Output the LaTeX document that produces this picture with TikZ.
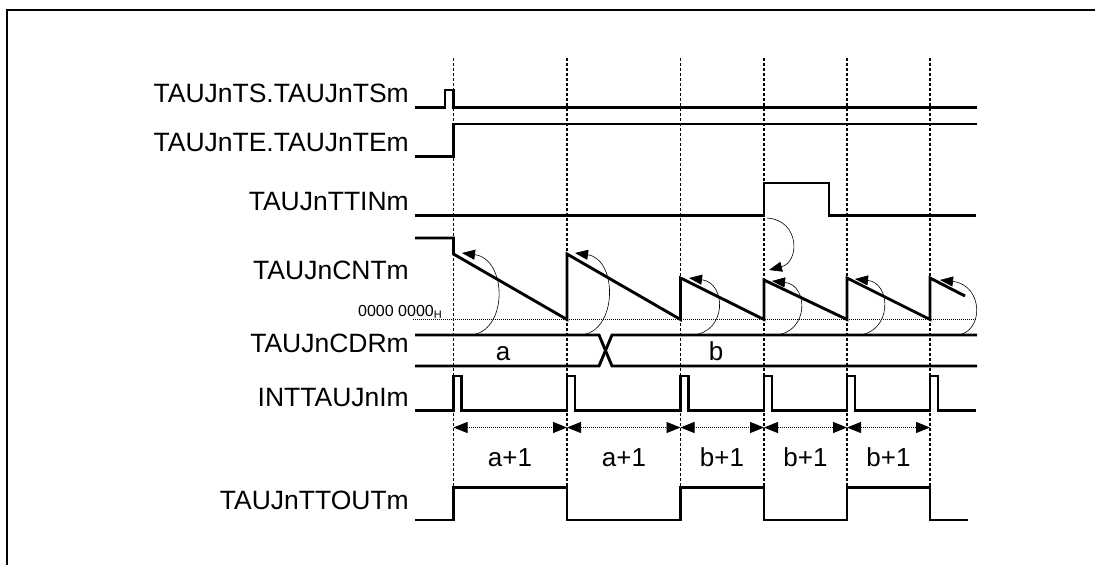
\documentclass[tikz,border=0pt]{standalone}
\usepackage{fontspec}
\setmainfont{Liberation Sans}
\usetikzlibrary{arrows.meta}
\begin{document}
\begin{tikzpicture}[x=1pt,y=-1pt,
  sig/.style={line width=2.9pt, line join=miter},
  frame/.style={line width=2.8pt},
  gridline/.style={line width=1.2pt, dash pattern=on 3pt off 2pt},
  zeroline/.style={line width=0.8pt, dash pattern=on 1pt off 1pt},
  lab/.style={font=\fontsize{26.5}{30}\selectfont, anchor=base east, inner sep=0pt},
  val/.style={font=\fontsize{26}{30}\selectfont, anchor=base, inner sep=0pt},
  arcarrow/.style={line width=0.6pt, -{Triangle[length=13pt,width=10pt]}},
  dimarrow/.style={line width=0.9pt, dash pattern=on 1pt off 1pt, {Triangle[length=14pt,width=11pt]}-{Triangle[length=14pt,width=11pt]}},
]
\useasboundingbox (0,0) rectangle (1095,565);
% frame
\draw[frame] (7,565) -- (7,10) -- (1095,10);

% vertical dashed time lines
\foreach \x [count=\i] in {453.5,567,680.5,764,847,930} {
  \coordinate (t\i) at (\x,58);
  \coordinate (b\i) at (\x,488);
  \coordinate (d\i) at (\x,427.5);
  \draw[gridline] (t\i) -- (b\i);
}

% labels
\node[lab] (lTS) at (409,102) {TAUJnTS.TAUJnTSm};
\node[lab] (lTE) at (409,151) {TAUJnTE.TAUJnTEm};
\node[lab] (lTTIN) at (409,210) {TAUJnTTINm};
\node[lab] (lCNT) at (409,279) {TAUJnCNTm};
\node[lab] (lCDR) at (409,352) {TAUJnCDRm};
\node[lab] (lINT) at (409,406) {INTTAUJnIm};
\node[lab] (lOUT) at (409,509) {TAUJnTTOUTm};
\node[font=\fontsize{16}{18}\selectfont, anchor=base west, inner sep=0pt] (zero) at (358,316) {0000 0000\raisebox{-0.35ex}{\fontsize{11}{12}\selectfont H}};

% TS
\draw[sig] (415,107.5) -- (445,107.5) -- (445,90) -- (453.5,90) -- (453.5,107.5) -- (977,107.5);
% TE
\draw[sig] (415,156.5) -- (453.5,156.5) -- (453.5,124) -- (977,124);
% TTIN
\draw[sig] (415,215.5) -- (764,215.5) -- (764,183) -- (829,183) -- (829,215.5) -- (976,215.5);
% zero line
\draw[zeroline] (413,319.5) -- (977,319.5);
% CNT
\draw[sig] (415,238) -- (453.5,238) -- (453.5,254) -- (567,319.5) -- (567,254) -- (680.5,319.5)
  -- (680.5,278) -- (764,319.5) -- (764,280) -- (847,319.5) -- (847,278) -- (930,319.5) -- (930,278) -- (965,296);
% CDR
\draw[sig] (415,335) -- (599,335) -- (612,366) -- (977,366);
\draw[sig] (415,366) -- (599,366) -- (612,335) -- (977,335);
\node[val] (va) at (503,360) {a};
\node[val] (vb) at (716,360) {b};
% INT
\draw[sig] (415,410.5)
  \foreach \x in {453.5,567,680.5,764,847,930} { -- (\x,410.5) -- (\x,376) -- (\x+8,376) -- (\x+8,410.5) }
  -- (976,410.5);
% TTOUT
\draw[sig] (415,520) -- (453.5,520) -- (453.5,487.5) -- (567,487.5) -- (567,520) -- (680.5,520)
  -- (680.5,487.5) -- (764,487.5) -- (764,520) -- (847,520) -- (847,487.5) -- (930,487.5) -- (930,520) -- (968,520);

% curved arrows CDR -> CNT
\draw[arcarrow] (470,335) .. controls (508,333) and (508,259) .. (462,253);
\draw[arcarrow] (580,335) .. controls (618,333) and (618,259) .. (575,253);
\draw[arcarrow] (692,335) .. controls (727,333) and (727,283) .. (689,278);
\draw[arcarrow] (775,335) .. controls (809,333) and (809,285) .. (772,281);
\draw[arcarrow] (858,335) .. controls (892,333) and (892,283) .. (855,279);
\draw[arcarrow] (957,335) .. controls (984,333) and (984,285) .. (940,280);
% TTIN -> CNT
\draw[arcarrow] (767,218) .. controls (800,220) and (800,262) .. (769,270);

% dimension arrows
\draw[dimarrow] (d1) -- (d2);
\draw[dimarrow] (d2) -- (d3);
\draw[dimarrow] (d3) -- (d4);
\draw[dimarrow] (d4) -- (d5);
\draw[dimarrow] (d5) -- (d6);
\node[val] (p1) at (510,466) {a+1};
\node[val] (p2) at (624,466) {a+1};
\node[val] (p3) at (722,466) {b+1};
\node[val] (p4) at (805.5,466) {b+1};
\node[val] (p5) at (888.5,466) {b+1};
\end{tikzpicture}
\end{document}
